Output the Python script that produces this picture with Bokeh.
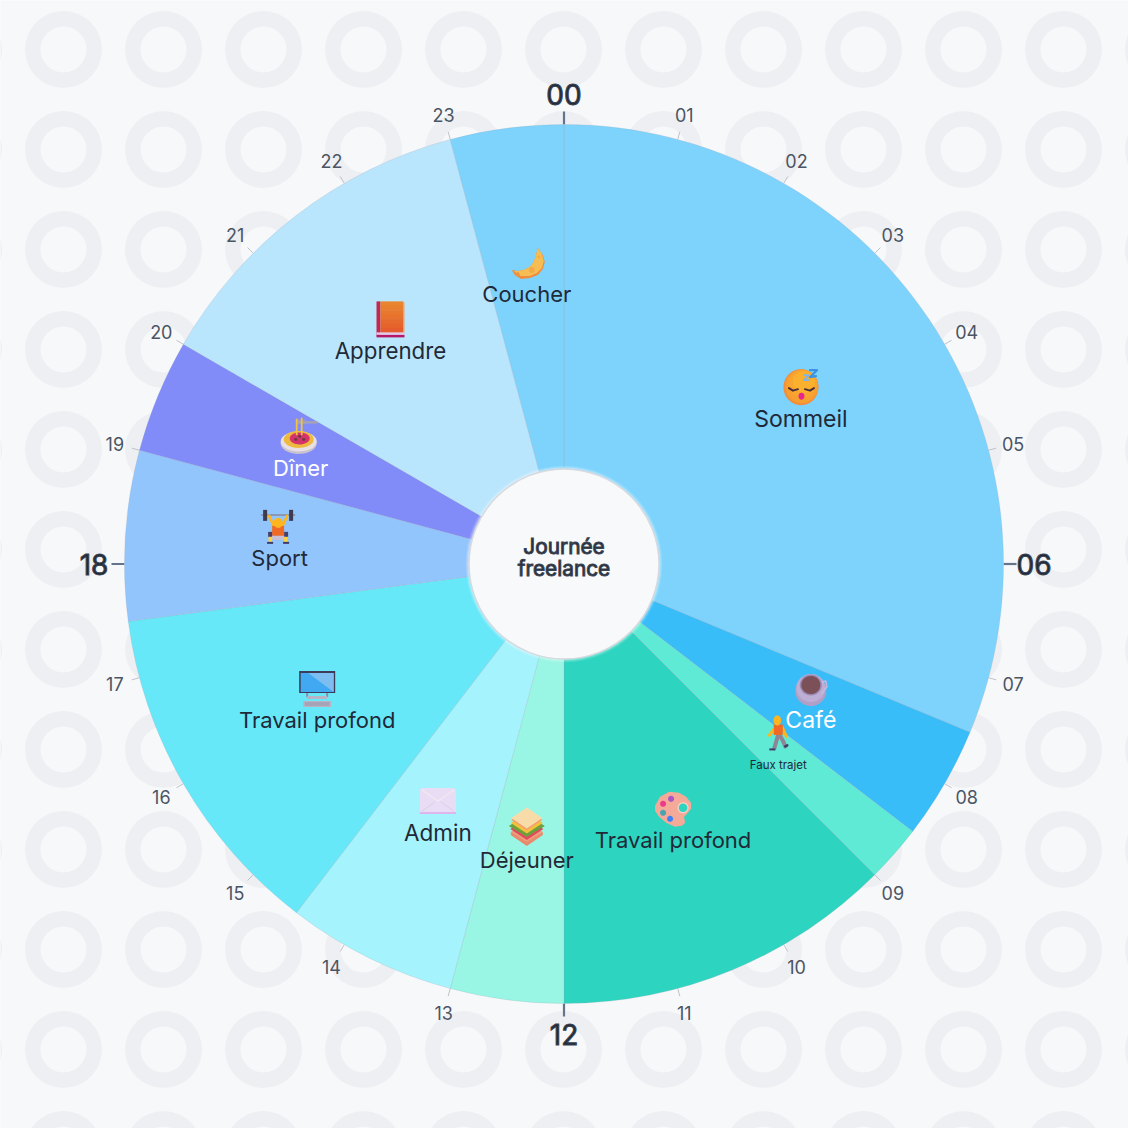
import numpy as np
from bokeh.embed import file_html
from bokeh.models import ColumnDataSource, Range1d
from bokeh.plotting import figure
from bokeh.resources import INLINE
from bokeh.core.properties import value

# ---- data ----
activities = ["Sommeil", "Café", "Faux trajet", "Travail profond", "Déjeuner", "Admin",
              "Travail profond", "Sport", "Dîner", "Apprendre", "Coucher"]
start_hours = [0, 7.5, 8.5, 9, 12, 13, 14.5, 17.5, 19, 20, 23]
end_hours = [7.5, 8.5, 9, 12, 13, 14.5, 17.5, 19, 20, 23, 24]
colors = ["#7DD3FC", "#38BDF8", "#5EEAD4", "#2DD4BF", "#99F6E4", "#A5F3FC",
          "#67E8F9", "#93C5FD", "#818CF8", "#BAE6FD", "#7DD3FC"]
label_colors = ["#1F2937", "#FFFFFF", "#1F2937", "#1F2937", "#1F2937", "#1F2937",
                "#1F2937", "#1F2937", "#FFFFFF", "#1F2937", "#1F2937"]
label_sizes = [23, 23, 11.5, 22, 22, 22.5, 22, 22, 22, 22.3, 22]
icons = ["sleep", "coffee", "walk", "palette", "sandwich", "mail",
         "computer", "lift", "pasta", "book", "moon"]
hour_labels = [f"{h:02d}" for h in range(24)]
major_hours = [0, 6, 12, 18]
center_lines = ["Journée", "freelance"]

# ---- style ----
BG = "#F7F8FA"
RING = "#EEEFF2"
FONT = "Inter"
SEMI = "#3A4351"
R_OUT, R_IN, R_LABEL = 439.5, 95, 285


def hour_xy(h, r):
    a = np.asarray(h, dtype=float) * np.pi / 12
    return r * np.sin(a), r * np.cos(a)


p = figure(width=1128, height=1128, output_backend="svg", toolbar_location=None,
           x_range=Range1d(-563.5, 564.5), y_range=Range1d(-564.5, 563.5),
           background_fill_color=BG, border_fill_color=BG, min_border=0, outline_line_color=None)
p.axis.visible = False
p.grid.visible = False
p.min_border_left = p.min_border_right = p.min_border_top = p.min_border_bottom = 0

# background rings
gx, gy = np.meshgrid(np.arange(-600, 700, 100) - 0.5, np.arange(-586, 714, 100) + 0.5)
p.annulus(gx.ravel(), gy.ravel(), inner_radius=23, outer_radius=38.5, fill_color=RING, line_color=None)

# ticks
hours = np.arange(24)
is_major = np.isin(hours, major_hours)
x0, y0 = hour_xy(hours, R_OUT)
x1, y1 = hour_xy(hours, np.where(is_major, R_OUT + 13, R_OUT + 8))
p.segment(x0, y0, x1, y1, line_color=np.where(is_major, "#64748B", "#BFC3CA").tolist(),
          line_width=np.where(is_major, 2.2, 1.0).tolist())

# wedges
to_angle = lambda h: np.pi / 2 - np.asarray(h, dtype=float) * np.pi / 12
src = ColumnDataSource(dict(s=to_angle(start_hours), e=to_angle(end_hours), c=colors))
p.annular_wedge(0, 0, inner_radius=R_IN, outer_radius=R_OUT, start_angle="s", end_angle="e",
                direction="clock", fill_color="c", line_color="#94A3B8", line_alpha=0.22,
                line_width=1, source=src)

# hub
for r, a in ((98.5, 0.10), (97.5, 0.16), (96.5, 0.22)):
    p.circle(0, 0, radius=r, fill_color="#FFFFFF", fill_alpha=a, line_color=None)
p.circle(0, 0, radius=95, fill_color="#F8F9FB", line_color="#D6D9DE", line_width=1.5)
p.text([0, 0], [18, -4], text=center_lines, text_font=value(FONT), text_font_size="20.8px",
       text_color="#1F2937", text_outline_color=SEMI, text_align="center", text_baseline="middle")

# hour labels
for major in (False, True):
    sel = hours[is_major == major]
    lx, ly = hour_xy(sel, 470 if major else 465)
    kw = dict(text_outline_color=SEMI) if major else {}
    p.text(lx, ly, text=[hour_labels[h] for h in sel], text_font=value(FONT),
           text_font_size="28px" if major else "18px",
           text_color="#1F2937" if major else "#4B5563", text_align="center", text_baseline="middle", **kw)

# ---- icon primitives, in local pixels (x right, y down) ----
def poly(c, pts, col, a=1.0):
    pts = np.array(pts, dtype=float)
    p.patch(c[0] + pts[:, 0], c[1] - pts[:, 1], fill_color=col, fill_alpha=a, line_color=None)


def ell(c, x, y, rx, ry, col, a=1.0, rot=0.0):
    t = np.linspace(0, 2 * np.pi, 40)
    ex, ey = rx * np.cos(t), ry * np.sin(t)
    cr, sr = np.cos(rot), np.sin(rot)
    poly(c, np.column_stack([x + ex * cr - ey * sr, y + ex * sr + ey * cr]), col, a)


def rect(c, x0, y0, x1, y1, col, a=1.0):
    poly(c, [(x0, y0), (x1, y0), (x1, y1), (x0, y1)], col, a)


def stroke(c, pts, col, w=1.0):
    pts = np.array(pts, dtype=float)
    p.line(c[0] + pts[:, 0], c[1] - pts[:, 1], line_color=col, line_width=w, line_cap="round", line_join="round")


def sleep(c):
    ell(c, 0, 0, 17.5, 18, "#F28B3C")
    ell(c, 0.5, -0.5, 16.8, 17.2, "#F59636")
    ell(c, 1, -1, 16, 16.5, "#F79F31")
    ell(c, 2, -3, 14, 14, "#F9A82F", 0.8)
    ell(c, 3, -5, 11, 11, "#FBB42D", 0.8)
    stroke(c, [(-12, 1), (-8, 3.5), (-3, 2)], "#4A2F3A", 2)
    stroke(c, [(4, 2), (9, 3.5), (13, 1)], "#4A2F3A", 2)
    ell(c, 0.5, 9, 3, 3.5, "#E7258D")
    stroke(c, [(3, -12), (8, -12), (3, -7), (8, -7)], "#7DB4EA", 1.6)
    stroke(c, [(9, -17), (16, -17), (9, -10), (15, -11)], "#3B93E8", 2.2)


def coffee(c):
    ell(c, 0, 3, 15.5, 15, "#B0A0C8")
    ell(c, 0, 0, 14.5, 14, "#BDAED6")
    stroke(c, [(11, -6), (15, -7), (16, -1), (11, 5)], "#C6B8DE", 1.6)
    ell(c, 0, -3, 11, 10.5, "#9A8AB0")
    ell(c, 0, -3, 9.5, 9, "#7C5058")


def walk(c):
    stroke(c, [(-3, -6), (-9, 2)], "#FFB61E", 3)
    stroke(c, [(4, -6), (8, 3)], "#FFB61E", 3)
    stroke(c, [(0, 1), (-4, 15)], "#8E8694", 4)
    stroke(c, [(1, 1), (5, 8), (7, 13)], "#8E8694", 4)
    rect(c, -4.5, -9, 4.5, 1.5, "#EF6A24")
    ell(c, -1, -13, 3.8, 5, "#FFB61E")
    rect(c, -9, 15, -3, 17, "#3E3D6B")
    stroke(c, [(7, 13), (9, 12)], "#3E3D6B", 2.5)


def palette(c):
    pts = [(-18, -3), (-13, -12), (-4, -17), (6, -16), (13, -12), (18, -6), (18, 0), (14, 5), (11, 8),
           (12, 14), (9, 17), (2, 18), (-7, 14), (-14, 8), (-18, 2)]
    poly(c, pts, "#F4A999")
    ell(c, 10, -1, 5.5, 5.5, "#FAD3C8")
    ell(c, 10, -1, 4.3, 4.3, "#2DD4BF")
    ell(c, -2, -10, 3, 3, "#A855C7")
    ell(c, -10, -5, 3, 3, "#EC3B8A")
    ell(c, -10, 4, 3, 3, "#4BA3B0")
    ell(c, -3, 10, 3, 3, "#3B82F6")


def sandwich(c):
    def dia(cy, hw, hh, col):
        poly(c, [(0, cy - hh), (hw, cy), (0, cy + hh), (-hw, cy)], col)
    dia(4, 16, 12, "#F19C7C")
    poly(c, [(-16, 4), (-16, 7), (0, 18), (16, 7), (16, 4), (0, 14)], "#E88A6C")
    dia(1, 16.5, 11, "#E34A5E")
    dia(-2, 18, 11, "#6E9F3E")
    dia(-5, 16, 10.5, "#F0C33A")
    dia(-8, 15.5, 10.5, "#F4A06E")
    dia(-10, 15.5, 10.5, "#F7DCAA")


def mail(c):
    rect(c, -18, 11, 18, 13, "#DDB6EE")
    poly(c, [(-16, -13), (16, -13), (18, -11), (18, 11), (-18, 11), (-18, -11)], "#E9DDF6")
    stroke(c, [(-16, -11), (0, 0), (16, -11)], "#F6E7EE", 1.2)
    stroke(c, [(-16, 10), (-3, 1)], "#DCCDE8", 1.0)
    stroke(c, [(16, 10), (3, 1)], "#DCCDE8", 1.0)


def computer(c):
    rect(c, -18, -17, 18, 5, "#3F3A58")
    rect(c, -16.5, -15, 16.5, 4, "#40A9F1")
    poly(c, [(-9, -15), (16.5, -15), (16.5, 4)], "#7CBEF0")
    rect(c, -11, 5, -9, 9, "#8F8AA5")
    rect(c, 9, 5, 11, 9, "#8F8AA5")
    rect(c, -10, 8, 10, 11, "#B9B3C6")
    rect(c, -14, 13, 14, 19, "#B8B4C6")
    for yy in (15, 17):
        stroke(c, [(-12, yy), (12, yy)], "#8E8AA0", 0.8)


def lift(c):
    c = (c[0] - 1.5, c[1])
    rect(c, -17, -12.5, 17, -11, "#8A8798")
    for x in (-15, 11):
        rect(c, x, -17, x + 4, -6, "#3E3A52")
    stroke(c, [(-9, -11), (-5, -2)], "#FFB61E", 2.6)
    stroke(c, [(9, -11), (5, -2)], "#FFB61E", 2.6)
    rect(c, -6, -1, 6, 9, "#F06A25")
    ell(c, 0, -4, 4.8, 5, "#FFB61E")
    rect(c, -10, 5, -6, 10, "#4A3F66")
    rect(c, 6, 5, 10, 10, "#4A3F66")
    rect(c, -6, 9, 6, 13, "#C9BFD6")
    rect(c, -9.5, 10, -6, 15, "#FFD23A")
    rect(c, 6, 10, 9.5, 15, "#FFD23A")
    rect(c, -11, 15, -5, 17, "#3E3A6B")
    rect(c, 5, 15, 11, 17, "#3E3A6B")


def pasta(c):
    ell(c, -2, 7, 18, 10.5, "#C9C3CF")
    ell(c, -2, 5, 18, 10, "#E8E0E4")
    ell(c, -2, 3, 15, 8.5, "#EDBA3F")
    stroke(c, [(-3, -14), (16, -14)], "#A9A5B0", 2.2)
    rect(c, -4, -17, 5, -12, "#A9A5B0", 0.6)
    ell(c, -1, 2, 10, 6, "#D6336C")
    for dx, dy in ((-5, 3), (-1, 0), (3, 3)):
        ell(c, dx, dy, 1.6, 1.4, "#6B3B3B")
    stroke(c, [(-4, -17), (-4, -2)], "#F1C23F", 1.8)
    stroke(c, [(1, -18), (1, -2)], "#F1C23F", 1.8)


def book(c):
    rect(c, -14, -18, -10, 16, "#C2274F")
    bands = ["#E8852E", "#E87F2E", "#E7782D", "#E7712D", "#E66A2C", "#E6632C", "#E55C2C"]
    edges = np.linspace(-18, 13, len(bands) + 1)
    for k, col in enumerate(bands):
        rect(c, -10, edges[k], 13, edges[k + 1] + 0.5, col)
    rect(c, 13, -17, 14, 13, "#F0A060")
    rect(c, -14, 13, 14, 15.5, "#E6C8E8")
    rect(c, -14, 15.5, 14, 18, "#B5186A")


def moon(c):
    pts = [(11, -15), (16, -8), (18, -1), (16, 6), (11, 12), (3, 15), (-6, 16), (-12, 12), (-15, 7),
           (-9, 8), (-3, 7), (3, 4), (7, -1), (9, -7)]
    poly(c, pts, "#F28B3C")
    pts2 = [(11, -15), (15, -9), (17, -2), (15, 5), (10, 10), (3, 13), (-6, 13), (-13, 8),
            (-9, 8), (-3, 7), (3, 4), (7, -1), (9, -7)]
    poly(c, pts2, "#F6BE52")
    ell(c, 5, 7, 3, 3, "#F2AA48")
    ell(c, -9, 11, 1.8, 1.8, "#EC9440")
    ell(c, 12, -6, 1.4, 1.4, "#F2AA48")


ICON_FUNCS = dict(sleep=sleep, coffee=coffee, walk=walk, palette=palette, sandwich=sandwich, mail=mail,
                  computer=computer, lift=lift, pasta=pasta, book=book, moon=moon)

# activity labels and icons, placed at each wedge's mid-hour
mid = (np.array(start_hours) + np.array(end_hours)) / 2
ax, ay = hour_xy(mid, R_LABEL)
for i, name in enumerate(activities):
    ICON_FUNCS[icons[i]]((ax[i], ay[i] + 18.5))
    p.text([ax[i]], [ay[i] - 13], text=[name], text_font=value(FONT),
           text_font_size=f"{label_sizes[i]}px", text_color=label_colors[i],
           text_align="center", text_baseline="middle")

open("out.html", "w").write(file_html(p, INLINE))
